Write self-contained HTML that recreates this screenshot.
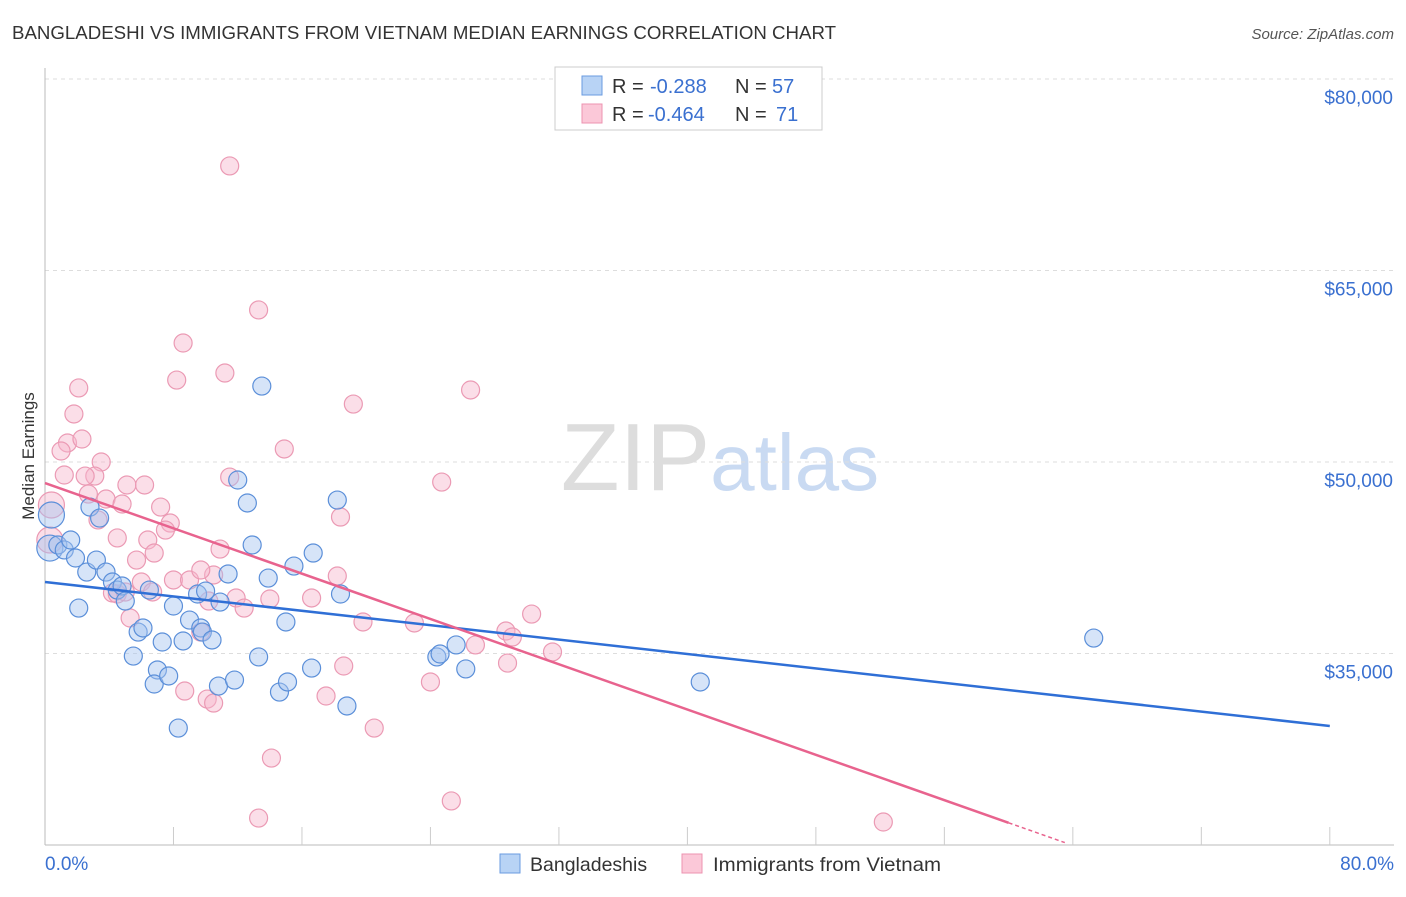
<!DOCTYPE html>
<html><head><meta charset="utf-8"><style>
body{margin:0;background:#fff;font-family:"Liberation Sans",sans-serif;}
svg text{font-family:"Liberation Sans",sans-serif;}
</style></head><body>
<svg id="chart" width="1406" height="892" xmlns="http://www.w3.org/2000/svg">
<text x="12" y="39" font-size="18" fill="#333" textLength="824" lengthAdjust="spacingAndGlyphs">BANGLADESHI VS IMMIGRANTS FROM VIETNAM MEDIAN EARNINGS CORRELATION CHART</text>
<text x="1394" y="39" font-size="15" fill="#555" text-anchor="end" font-style="italic">Source: ZipAtlas.com</text>
<text x="720" y="490" font-size="96" text-anchor="middle" fill="#ddd" font-family="Liberation Serif">ZIP<tspan fill="#c9daf2" font-family="Liberation Sans" font-size="80">atlas</tspan></text>
<g id="grid"></g><g id="axes"></g><g id="marks"></g>
<text transform="translate(34,456) rotate(-90)" font-size="17" fill="#333" text-anchor="middle">Median Earnings</text>
<g>
<rect x="555" y="67" width="267" height="63" fill="#fff" stroke="#ccc"/>
<rect x="582" y="76" width="20" height="19" fill="#b8d3f5" stroke="#6a9be0"/>
<rect x="582" y="104" width="20" height="19" fill="#fbc8d8" stroke="#ec93b0"/>
<text x="612" y="93" font-size="20" fill="#333">R =</text>
<text x="650" y="93" font-size="20" fill="#3a70d0">-0.288</text>
<text x="735" y="93" font-size="20" fill="#333">N =</text>
<text x="772" y="93" font-size="20" fill="#3a70d0">57</text>
<text x="612" y="121" font-size="20" fill="#333">R =</text>
<text x="648" y="121" font-size="20" fill="#3a70d0">-0.464</text>
<text x="735" y="121" font-size="20" fill="#333">N =</text>
<text x="776" y="121" font-size="20" fill="#3a70d0">71</text>
</g>
<g>
<rect x="500" y="854" width="20" height="19" fill="#b8d3f5" stroke="#6a9be0"/>
<text x="530" y="871" font-size="19.5" fill="#333">Bangladeshis</text>
<rect x="682" y="854" width="20" height="19" fill="#fbc8d8" stroke="#ec93b0"/>
<text x="713" y="871" font-size="19.5" fill="#333" textLength="228" lengthAdjust="spacingAndGlyphs">Immigrants from Vietnam</text>
</g>
</svg>
<script>
const yTicks=[35000,50000,65000,80000];
const yTickLabels=["$35,000","$50,000","$65,000","$80,000"];
const xTickLabels=["0.0%","80.0%"];
const blueX=[0.3,0.4,0.8,1.2,1.6,1.9,2.1,2.6,2.8,3.2,3.4,3.8,4.2,4.5,4.8,5.0,5.5,5.8,6.1,6.5,7.0,6.8,7.3,7.7,8.0,8.3,8.6,9.0,9.5,9.7,9.8,10.0,10.4,10.8,10.9,11.4,11.8,12.0,12.6,12.9,13.3,13.5,13.9,14.6,15.0,15.1,15.5,16.6,16.7,18.2,18.4,18.8,24.4,24.6,25.6,26.2,40.8,65.3];
const blueY=[43.26,45.85,43.5,43.11,43.89,42.48,38.56,41.38,46.47,42.32,45.61,41.38,40.6,39.97,40.29,39.11,34.8,36.68,37.0,39.97,33.71,32.61,35.9,33.24,38.72,29.16,35.98,37.62,39.66,37.0,36.68,39.89,36.06,32.45,39.03,41.23,32.92,48.59,46.79,43.5,34.73,55.95,40.91,31.98,37.47,32.77,41.85,33.86,42.87,47.02,39.66,30.89,34.73,34.96,35.67,33.79,32.77,36.21];
const pinkX=[11.5,13.3,8.6,11.2,8.2,2.1,26.5,19.2,1.8,1.4,2.3,1.0,14.9,3.5,1.2,3.1,2.5,11.5,24.7,2.7,5.1,6.2,3.8,4.8,7.2,18.4,7.8,3.3,7.5,4.5,6.4,10.9,5.7,6.8,10.5,8.0,9.0,18.2,9.7,6.0,4.2,4.5,5.0,6.7,11.9,14.0,16.6,10.2,12.4,5.3,30.3,19.8,23.0,9.7,28.7,29.1,26.8,31.6,18.6,28.8,8.7,17.5,24.0,10.1,10.5,20.5,14.1,25.3,13.3,52.2,0.4,0.3];
const pinkY=[73.19,61.91,59.32,56.97,56.42,55.8,55.64,54.54,53.76,51.49,51.8,50.86,51.02,50.0,48.98,48.9,48.9,48.82,48.43,47.49,48.2,48.2,47.1,46.71,46.47,45.69,45.22,45.46,44.67,44.05,43.89,43.18,42.32,42.87,41.15,40.76,40.76,41.07,41.54,40.6,39.74,39.66,39.82,39.82,39.35,39.27,39.35,39.11,38.56,37.78,38.09,37.47,37.39,36.68,36.76,36.29,35.67,35.12,34.02,34.25,32.06,31.67,32.77,31.43,31.12,29.16,26.81,23.45,22.11,21.8,46.63,43.89];
const blueTrend=[40.6,29.32];
const pinkTrend=[48.35,12.87];
const NS="http://www.w3.org/2000/svg";
const X=p=>45+p*16.06;
const Y=k=>79+(80-k)/15*191.5;
function mk(parent,tag,at){const e=document.createElementNS(NS,tag);for(const k in at)e.setAttribute(k,at[k]);document.getElementById(parent).appendChild(e);return e;}
yTicks.forEach((t,i)=>{
 const g=mk('grid','line',{x1:45,x2:1394,y1:Y(t/1000),y2:Y(t/1000),stroke:'#ddd','stroke-dasharray':'4,4'});
 
 
 const tx=mk('axes','text',{x:1393,y:Y(t/1000)+25,'font-size':19,fill:'#3a70d0','text-anchor':'end'});
 tx.textContent=yTickLabels[i];
 
 
});
const ya=mk('axes','line',{x1:45,x2:45,y1:68,y2:845,stroke:'#bbb'});


const xa=mk('axes','line',{x1:45,x2:1394,y1:845,y2:845,stroke:'#bbb'});


for(let i=1;i<=10;i++){const t=mk('axes','line',{x1:X(i*8),x2:X(i*8),y1:827,y2:845,stroke:'#ccc'});
 
 }
[[0,'start',45],[80,'end',1394]].forEach((d,i)=>{const t=mk('axes','text',{x:d[2],y:870,'font-size':19,fill:'#3a70d0','text-anchor':d[1]});t.textContent=xTickLabels[i];
 
 });
function dots(xs,ys,fill,stroke,name){xs.forEach((x,i)=>{const big=(x<0.5);const c=mk('marks','circle',{cx:X(x),cy:Y(ys[i]),r:big?13:9,fill:fill,stroke:stroke,'stroke-width':1.2});
 
 });}
dots(pinkX,pinkY,'rgba(247,182,203,0.45)','#eb9ab4','vietnam-point');
dots(blueX,blueY,'rgba(164,196,240,0.45)','#5b8fd9','bangladeshi-point');
const bl=mk('marks','line',{x1:X(0),y1:Y(blueTrend[0]),x2:X(80),y2:Y(blueTrend[1]),stroke:'#2f6fd6','stroke-width':2.5});


const pe=60;const pv=pinkTrend[0]+(pinkTrend[1]-pinkTrend[0])*pe/80;
const pl=mk('marks','line',{x1:X(0),y1:Y(pinkTrend[0]),x2:X(pe),y2:Y(pv),stroke:'#e8638e','stroke-width':2.5});


const ee=63.5;const ev=pinkTrend[0]+(pinkTrend[1]-pinkTrend[0])*ee/80;
const pd=mk('marks','line',{x1:X(pe),y1:Y(pv),x2:X(ee),y2:Y(ev),stroke:'#e8638e','stroke-width':1.5,'stroke-dasharray':'4,3'});


</script>
</body></html>
